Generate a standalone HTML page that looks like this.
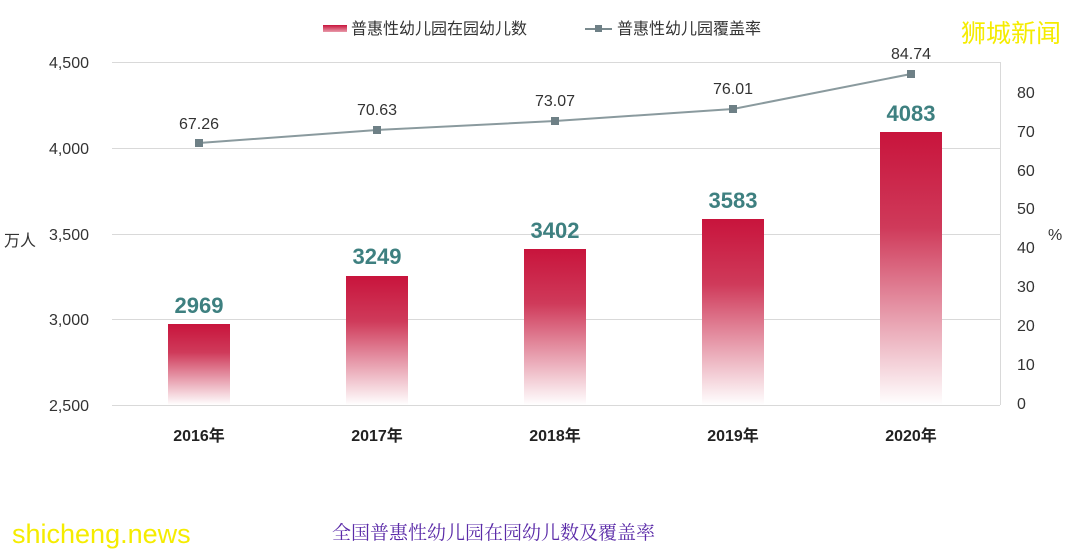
<!DOCTYPE html>
<html><head><meta charset="utf-8"><style>
html,body{margin:0;padding:0;background:#fff;}
svg{display:block;font-family:"Liberation Sans","Noto Sans CJK SC",sans-serif;}
</style></head><body>
<svg width="1080" height="554" viewBox="0 0 1080 554" xmlns="http://www.w3.org/2000/svg">
<defs>
<linearGradient id="g" x1="0" y1="0" x2="0" y2="1">
<stop offset="0" stop-color="#c8143c"/>
<stop offset="0.35" stop-color="#cf3a5a"/>
<stop offset="1" stop-color="#ffffff"/>
</linearGradient>
<linearGradient id="lg" x1="0" y1="0" x2="0" y2="1">
<stop offset="0" stop-color="#c8143c"/><stop offset="1" stop-color="#e89aaa"/>
</linearGradient>
</defs>
<rect x="323" y="25" width="24" height="7" fill="url(#lg)"/>
<text x="351" y="34" font-size="16" fill="#333">普惠性幼儿园在园幼儿数</text>
<line x1="585" y1="29" x2="612" y2="29" stroke="#7a8a8e" stroke-width="2"/>
<rect x="595" y="25" width="7" height="7" fill="#6e8086"/>
<text x="617" y="34" font-size="16" fill="#333">普惠性幼儿园覆盖率</text>
<g stroke="#d9d9d9" stroke-width="1">
<line x1="112" y1="62.5" x2="1000" y2="62.5"/>
<line x1="112" y1="148.5" x2="1000" y2="148.5"/>
<line x1="112" y1="234.5" x2="1000" y2="234.5"/>
<line x1="112" y1="319.5" x2="1000" y2="319.5"/>
<line x1="112" y1="405.5" x2="1000" y2="405.5"/>
<line x1="1000.5" y1="62" x2="1000.5" y2="405"/>
</g>
<g font-size="16" fill="#333" text-anchor="end">
<text x="89" y="68">4,500</text>
<text x="89" y="154">4,000</text>
<text x="89" y="240">3,500</text>
<text x="89" y="325">3,000</text>
<text x="89" y="411">2,500</text>
</g>
<text x="4" y="246" font-size="16" fill="#333">万人</text>
<g font-size="16" fill="#333" text-anchor="start">
<text x="1017" y="98">80</text>
<text x="1017" y="137">70</text>
<text x="1017" y="176">60</text>
<text x="1017" y="214">50</text>
<text x="1017" y="253">40</text>
<text x="1017" y="292">30</text>
<text x="1017" y="331">20</text>
<text x="1017" y="370">10</text>
<text x="1017" y="409">0</text>
</g>
<text x="1048" y="240" font-size="16" fill="#333">%</text>
<rect x="168" y="324" width="62" height="81" fill="url(#g)"/>
<rect x="346" y="276" width="62" height="129" fill="url(#g)"/>
<rect x="524" y="249" width="62" height="156" fill="url(#g)"/>
<rect x="702" y="219" width="62" height="186" fill="url(#g)"/>
<rect x="880" y="132" width="62" height="273" fill="url(#g)"/>
<g font-size="22" font-weight="bold" fill="#3e8080" text-anchor="middle">
<text x="199" y="313">2969</text>
<text x="377" y="264">3249</text>
<text x="555" y="238">3402</text>
<text x="733" y="208">3583</text>
<text x="911" y="121">4083</text>
</g>
<polyline points="199,143 377,130 555,121 733,109 911,74" fill="none" stroke="#8a9a9e" stroke-width="2"/>
<g fill="#6e8086">
<rect x="195" y="139" width="8" height="8"/>
<rect x="373" y="126" width="8" height="8"/>
<rect x="551" y="117" width="8" height="8"/>
<rect x="729" y="105" width="8" height="8"/>
<rect x="907" y="70" width="8" height="8"/>
</g>
<g font-size="16" fill="#333" text-anchor="middle">
<text x="199" y="129">67.26</text>
<text x="377" y="115">70.63</text>
<text x="555" y="106">73.07</text>
<text x="733" y="94">76.01</text>
<text x="911" y="59">84.74</text>
</g>
<g font-size="16" font-weight="bold" fill="#222" text-anchor="middle">
<text x="199" y="441">2016年</text>
<text x="377" y="441">2017年</text>
<text x="555" y="441">2018年</text>
<text x="733" y="441">2019年</text>
<text x="911" y="441">2020年</text>
</g>
<text x="961" y="42" font-size="25" fill="#f5ec00">狮城新闻</text>
<text x="12" y="543" font-size="27" fill="#f5ec00">shicheng.news</text>
<text x="332" y="539" font-size="19" fill="#5a2aa8" font-family="'Noto Serif CJK SC',serif">全国普惠性幼儿园在园幼儿数及覆盖率</text>
</svg>
</body></html>
